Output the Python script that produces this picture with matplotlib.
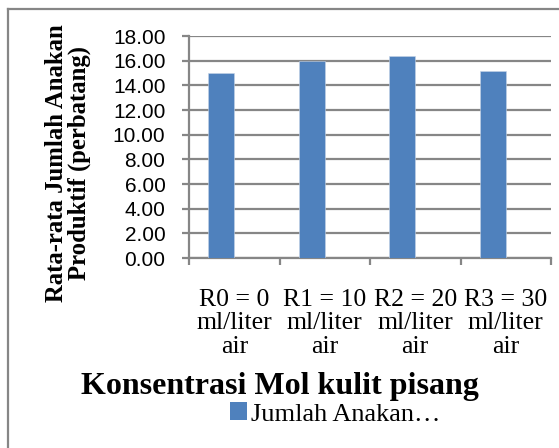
import matplotlib
matplotlib.use("Agg")
import matplotlib.pyplot as plt
from matplotlib.lines import Line2D
from matplotlib.patches import Patch
import numpy as np

categories = ["R0 = 0\nml/liter\nair", "R1 = 10\nml/liter\nair",
              "R2 = 20\nml/liter\nair", "R3 = 30\nml/liter\nair"]
values = [15.03, 15.97, 16.40, 15.17]
yticks = [0, 2, 4, 6, 8, 10, 12, 14, 16, 18]
series_name = "Jumlah Anakan\u2026"
ylabel = "Rata-rata Jumlah Anakan\nProduktif (perbatang)"
xlabel = "Konsentrasi Mol kulit pisang"

W, H = 559, 448
fig = plt.figure(figsize=(W / 100, H / 100), dpi=100)
ax = fig.add_axes([189 / W, 1 - 258 / H, (551 - 189) / W, (258 - 36) / H])

gray = "#868686"
bar_w = 1 / 3.5
x = np.arange(len(categories))
ax.bar(x - bar_w / 2, values, width=bar_w, color="#4F81BD", zorder=3,
       edgecolor="#c5d3e6", linewidth=0.4)

ax.set_xlim(-0.5, len(categories) - 0.5)
ax.set_ylim(0, 18)
ax.set_yticks(yticks)
ax.set_yticklabels([f"{v:.2f}" for v in yticks], fontfamily="Liberation Sans", fontsize=15)
ax.yaxis.grid(True, color=gray, linewidth=1.6, zorder=1)
ax.set_axisbelow(True)

ax.set_xticks(x)
ax.set_xticklabels(categories, fontfamily="Liberation Serif", fontsize=18.5, linespacing=1.1)
ax.set_xticks(np.arange(len(categories) + 1) - 0.5, minor=True)
ax.tick_params(axis="x", which="major", length=0, pad=22)
ax.tick_params(axis="x", which="minor", length=5, width=1.6, color=gray, direction="out")
ax.tick_params(axis="y", length=5, width=1.6, color=gray, direction="out", pad=12)

for s in ["top", "right"]:
    ax.spines[s].set_visible(False)
for s in ["left", "bottom"]:
    ax.spines[s].set_color(gray)
    ax.spines[s].set_linewidth(1.6)

fig.text(68 / W, 1 - 163 / H, ylabel, rotation=90, ha="center", va="center",
         fontfamily="Liberation Serif", fontweight="bold", fontsize=17.8, linespacing=1.0)
fig.text(280 / W, 1 - 386 / H, xlabel, ha="center", va="center",
         fontfamily="Liberation Serif", fontweight="bold", fontsize=23)

handle = Patch(facecolor="#4F81BD", edgecolor="none")
fig.legend([handle], [series_name], loc="center", bbox_to_anchor=(335 / W, 1 - 414 / H),
           frameon=False, prop={"family": "Liberation Serif", "size": 19},
           handlelength=0.65, handleheight=0.65, handletextpad=0.15, borderpad=0)

fig.add_artist(Line2D([7.5 / W, 7.5 / W], [0, 1 - 9.5 / H], transform=fig.transFigure,
                      color=gray, linewidth=1.6))
fig.add_artist(Line2D([7.5 / W, 1], [1 - 9.5 / H, 1 - 9.5 / H], transform=fig.transFigure,
                      color=gray, linewidth=1.6))

fig.savefig("out.png", dpi=100)
